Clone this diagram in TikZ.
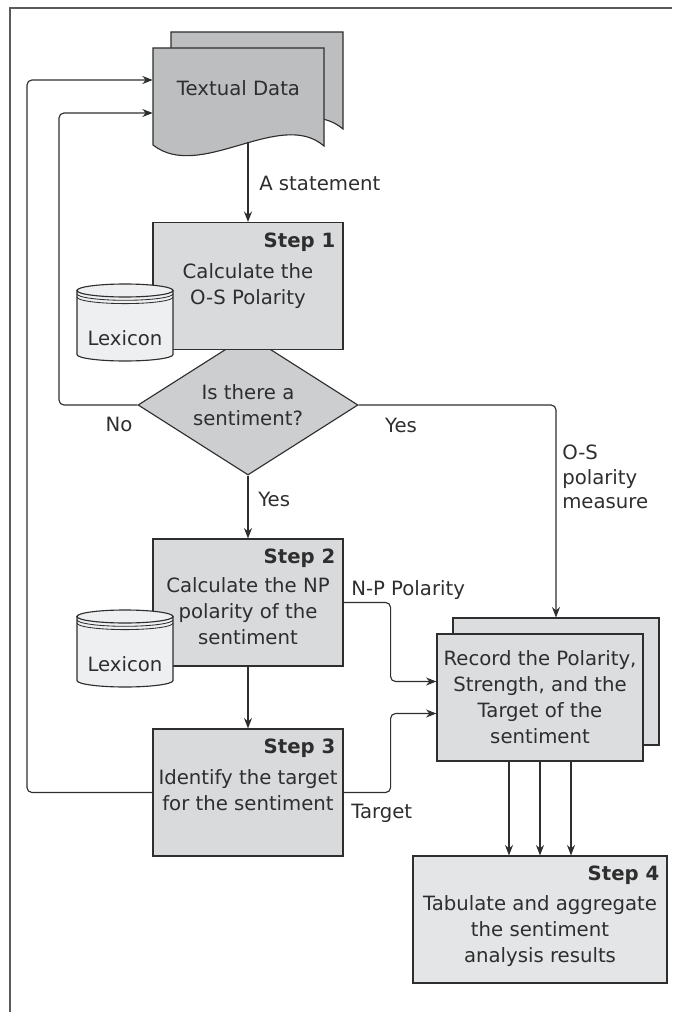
\documentclass[tikz,border=0pt]{standalone}
\usepackage{fontspec}
\setmainfont{DejaVu Sans}
\usetikzlibrary{arrows.meta, positioning, calc, shapes.geometric}
\definecolor{inkgray}{HTML}{2E2E2E}
\definecolor{framegray}{HTML}{5A5A5A}
\definecolor{docgray}{HTML}{BDBEC0}
\definecolor{stepgray}{HTML}{D9DADC}
\definecolor{decgray}{HTML}{CDCED0}
\definecolor{recgray}{HTML}{DCDDDF}
\definecolor{finalgray}{HTML}{E4E5E6}
\definecolor{lexgray}{HTML}{EEEFF0}

\begin{document}
\begin{tikzpicture}[
  x=0.025cm, y=-0.025cm,
  >={Stealth[length=2.6mm, width=2mm]},
  every node/.style={font=\fontsize{14}{18.5}\selectfont, text=inkgray},
  stepbox/.style={
    draw=inkgray, line width=0.8pt, fill=#1,
    minimum width=4.75cm, minimum height=3.175cm, inner sep=0pt
  },
  decbox/.style={
    diamond, aspect=1.57, draw=inkgray, line width=0.8pt, fill=decgray,
    minimum width=5.5cm, minimum height=3.5cm, inner sep=0pt, align=center
  },
  steptag/.style={anchor=base east, inner sep=0pt,
    font=\fontsize{14}{18.5}\selectfont\bfseries},
  stepbody/.style={anchor=north, inner sep=0pt, align=center},
  lbl/.style={inner sep=0pt},
  doc/.style={draw=inkgray, line width=0.8pt, fill=docgray},
  lexshape/.style={draw=inkgray, line width=0.8pt, fill=lexgray},
  arr/.style={->, line width=0.8pt, draw=inkgray, rounded corners=3.5pt},
]

\useasboundingbox (0,0) rectangle (672,1012);

% Frame
\draw[framegray, line width=1.5pt] (10,1012) -- (10,8) -- (672,8);

% ===== Textual data (two pages) =====
\filldraw[doc] (171,32) -- (343,32) -- (343,129)
  .. controls (299,91) and (219,165) .. (171,128) -- cycle;
\filldraw[doc] (153,48) -- (324,48) -- (324,146)
  .. controls (280,108) and (200,182) .. (153,145) -- cycle;
\node[minimum width=4.275cm, minimum height=2.35cm, inner sep=0pt] (data) at (238.5,95) {};
\node (datatxt) at (238.5,88) {Textual Data};

% ===== Decision (sits behind Step 1) =====
\node[decbox] (dec) at (248,405) {Is there a\\sentiment?};

% ===== Step 1 =====
\node[stepbox=stepgray] (s1) at (248,286) {};
\node[steptag] (s1tag) at ($(s1.north east)+(-8,25.5)$) {Step 1};
\node[stepbody] (s1txt) at ($(s1.north)+(0,41)$) {Calculate the\\O-S Polarity};

% ===== Step 2 =====
\node[stepbox=stepgray] (s2) at (248,602.5) {};
\node[steptag] (s2tag) at ($(s2.north east)+(-8,25.5)$) {Step 2};
\node[stepbody] (s2txt) at ($(s2.north)+(0,39)$)
  {Calculate the NP\\polarity of the\\sentiment};

% ===== Step 3 =====
\node[stepbox=stepgray] (s3) at (248,792.5) {};
\node[steptag] (s3tag) at ($(s3.north east)+(-8,25.5)$) {Step 3};
\node[stepbody] (s3txt) at ($(s3.north)+(0,41)$)
  {Identify the target\\for the sentiment};

% ===== Lexicons =====
\foreach \ly/\lname in {284/lexa, 610/lexb} {
  \filldraw[lexshape] (77,\ly+6.5) -- (77,\ly+70.5)
    arc[start angle=180, end angle=0, x radius=48, y radius=6.5]
    -- (173,\ly+6.5) -- cycle;
  \filldraw[lexshape] (125,\ly+6.5) ellipse[x radius=48, y radius=6.5];
  \draw[inkgray, line width=0.6pt] (77,\ly+9.8)
    arc[start angle=180, end angle=0, x radius=48, y radius=6.5];
  \draw[inkgray, line width=0.6pt] (77,\ly+13.1)
    arc[start angle=180, end angle=0, x radius=48, y radius=6.5];
  \node (\lname) at (125,\ly+54) {Lexicon};
}

% ===== Record (two sheets) =====
\node[stepbox=recgray, minimum width=5.15cm] (recb) at (556,681.5) {};
\node[stepbox=recgray, minimum width=5.15cm, align=center] (rec) at (540,697.5)
  {Record the Polarity,\\Strength, and the\\Target of the\\sentiment};

% ===== Step 4 =====
\node[stepbox=finalgray, minimum width=6.35cm] (s4) at (540,919.5) {};
\node[steptag] (s4tag) at ($(s4.north east)+(-8,25.5)$) {Step 4};
\node[stepbody] (s4txt) at ($(s4.north)+(0,40)$)
  {Tabulate and aggregate\\the sentiment\\analysis results};

% ===== Arrows =====
\coordinate (laneA) at (27,80);
\coordinate (laneB) at (59,113);
\draw[arr] (data.south -| s1.north) -- (s1.north);
\draw[arr] (dec.south) -- (s2.north);
\draw[arr] (s2.south) -- (s3.north);
\draw[arr] (dec.west) -| (laneB) -- (laneB -| data.west);
\draw[arr] (s3.west) -| (laneA) -- (laneA -| data.west);
\draw[arr] (dec.east) -| (recb.north);
\draw[arr] (s2.east) -- ++(47,0) |- ($(rec.west)+(0,-16)$);
\draw[arr] (s3.east) -- ++(47,0) |- ($(rec.west)+(0,16)$);
\foreach \dx in {-31,0,31}
  \draw[arr] ([xshift=\dx*0.025cm]rec.south) -- ([xshift=\dx*0.025cm]s4.north);

% ===== Labels =====
\node[lbl, anchor=base west] (lstmt) at (259,190) {A statement};
\node[lbl, anchor=base] (lno) at (119,431) {No};
\node[lbl, anchor=base] (lyesr) at (401,432) {Yes};
\node[lbl, anchor=base west] (lyesd) at (258,506) {Yes};
\node[lbl, anchor=west, align=left, font=\fontsize{14}{17.3}\selectfont]
  (los) at (562,477) {O-S\\polarity\\measure};
\node[lbl, anchor=base west] (lnp) at (351,595) {N-P Polarity};
\node[lbl, anchor=base west] (ltarget) at (351,818) {Target};

\end{tikzpicture}
\end{document}
